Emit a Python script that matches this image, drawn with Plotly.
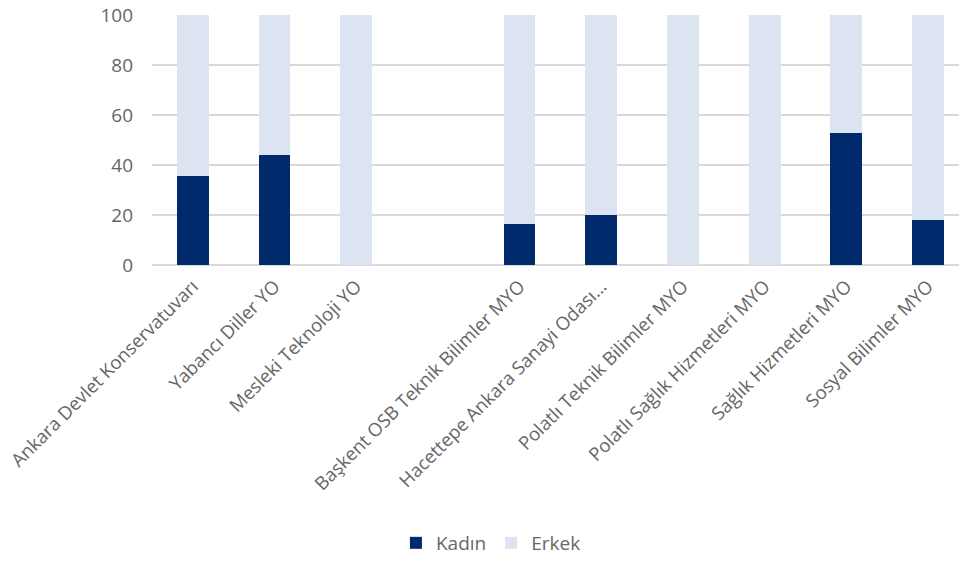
import plotly.graph_objects as go

categories = [
    "Ankara Devlet Konservatuvarı",
    "Yabancı Diller YO",
    "Mesleki Teknoloji YO",
    " ",
    "Başkent OSB Teknik Bilimler MYO",
    "Hacettepe Ankara Sanayi Odası...",
    "Polatlı Teknik Bilimler MYO",
    "Polatlı Sağlık Hizmetleri MYO",
    "Sağlık Hizmetleri MYO",
    "Sosyal Bilimler MYO",
]
kadin = [35.5, 44.1, 0, None, 16.4, 20.0, 0, 0, 52.8, 18.0]
erkek = [64.5, 55.9, 100, None, 83.6, 80.0, 100, 100, 47.2, 82.0]
y_ticks = [0, 20, 40, 60, 80, 100]

FONT = "Open Sans"
GRAY = "#666666"

fig = go.Figure()
fig.add_trace(go.Bar(name="Kadın", x=categories, y=kadin, marker_color="#002A6C",
                     marker_line_width=0))
fig.add_trace(go.Bar(name="Erkek", x=categories, y=erkek, marker_color="#DDE4F1",
                     marker_line_width=0))

fig.update_layout(
    barmode="stack",
    bargap=0.61,
    width=959, height=561,
    margin=dict(l=152, r=0, t=15, b=296, autoexpand=False),
    paper_bgcolor="white", plot_bgcolor="white",
    font=dict(family=FONT, color=GRAY, size=18),
    showlegend=True,
    legend=dict(orientation="h", x=0.42, xanchor="center", y=-1.112, yanchor="middle",
                font=dict(size=19, color=GRAY), traceorder="normal",
                itemwidth=30, tracegroupgap=0),
)
fig.update_xaxes(type="category", range=[-0.5, 9.38], tickangle=-45, automargin=False,
                 showgrid=False, showline=False, ticks="", ticklabelstandoff=6,
                 tickfont=dict(size=18.5, color=GRAY))
fig.update_yaxes(range=[0, 100], tickvals=y_ticks, showgrid=True, gridcolor="#D9D9D9",
                 gridwidth=1.5, zeroline=True, zerolinecolor="#D9D9D9", zerolinewidth=1.5,
                 showline=False, ticks="", ticklabelstandoff=18, automargin=False,
                 tickfont=dict(size=19, color=GRAY))

fig.write_html("out.html", config={"displayModeBar": False},
               post_script="document.body.style.margin='0';document.body.style.overflow='hidden';")
